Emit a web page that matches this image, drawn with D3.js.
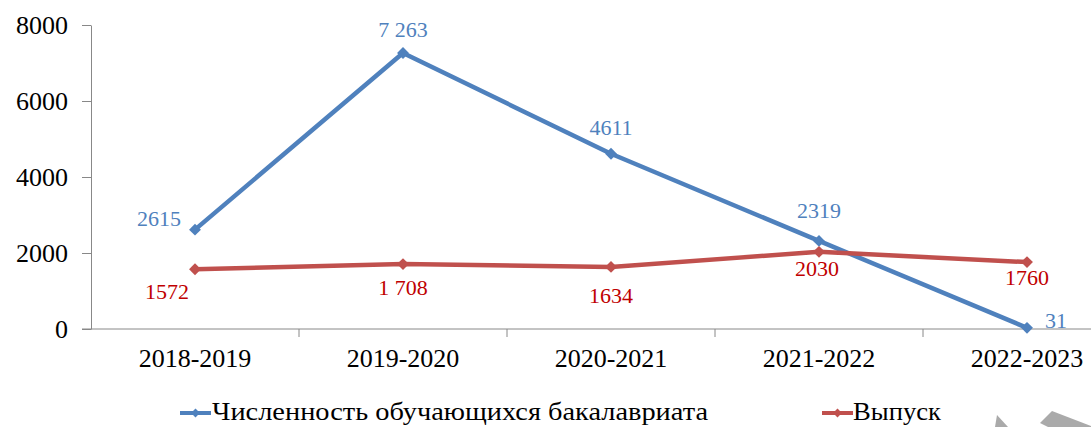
<!DOCTYPE html>
<html>
<head>
<meta charset="utf-8">
<script src="https://cdn.jsdelivr.net/npm/d3@7"></script>
<style>
  body { margin: 0; background: #fff; }
  svg text { font-family: "Liberation Serif", "DejaVu Serif", "Times New Roman", serif; }
</style>
</head>
<body>
<svg id="chart"></svg>
<script>
// data
var years = ["2018-2019", "2019-2020", "2020-2021", "2021-2022", "2022-2023"];
var students = [2615, 7263, 4611, 2319, 31];
var studentLabels = ["2615", "7 263", "4611", "2319", "31"];
var graduates = [1572, 1708, 1634, 2030, 1760];
var graduateLabels = ["1572", "1 708", "1634", "2030", "1760"];
var yTicks = [0, 2000, 4000, 6000, 8000];
var seriesNames = ["Численность обучающихся бакалавриата", "Выпуск"];

var W = 1091, H = 427;
var serif = "'Liberation Serif', 'DejaVu Serif', serif";
var svg = d3.select("#chart").attr("width", W).attr("height", H);

var x = d3.scaleBand().domain(years).range([91, 91 + 5 * 208]);
var y = d3.scaleLinear().domain([0, 8000]).range([329, 25]);

// y axis
var yAxis = svg.append("g")
    .attr("transform", "translate(91,0)")
    .call(d3.axisLeft(y).tickValues(yTicks).tickSize(9).tickSizeOuter(0).tickFormat(d3.format("d")));
yAxis.attr("font-family", serif).attr("font-size", 26);
yAxis.select(".domain").attr("stroke", "#888");
yAxis.selectAll(".tick line").attr("stroke", "#888");
yAxis.selectAll(".tick text")
    .attr("x", -23)
    .attr("dy", "0.34em")
    .style("font-family", serif)
    .style("font-size", "26px")
    .attr("fill", "#000");

// x axis
var xAxis = svg.append("g")
    .attr("transform", "translate(0,329)");
xAxis.append("line")
    .attr("x1", 82).attr("x2", W)
    .attr("y1", 0).attr("y2", 0)
    .attr("stroke", "#888");
xAxis.selectAll("line.sep")
    .data(years)
    .enter().append("line")
    .attr("class", "sep")
    .attr("x1", d => x(d) + x.bandwidth())
    .attr("x2", d => x(d) + x.bandwidth())
    .attr("y1", 0).attr("y2", 8)
    .attr("stroke", "#888");
xAxis.selectAll("text")
    .data(years)
    .enter().append("text")
    .attr("x", d => x(d) + x.bandwidth() / 2)
    .attr("y", 38)
    .attr("text-anchor", "middle")
    .style("font-family", serif)
    .style("font-size", "26px")
    .attr("fill", "#000")
    .text(d => d);

var cx = d => x(d) + x.bandwidth() / 2;
var line = d3.line().x(d => cx(d.year)).y(d => y(d.v));

function drawSeries(vals, color) {
  var pts = years.map((yr, i) => ({year: yr, v: vals[i]}));
  svg.append("path")
      .datum(pts)
      .attr("d", line)
      .attr("fill", "none")
      .attr("stroke", color)
      .attr("stroke-width", 4.5)
      .attr("stroke-linejoin", "round");
  svg.append("g").selectAll("path")
      .data(pts)
      .enter().append("path")
      .attr("d", d3.symbol().type(d3.symbolDiamond2).size(90))
      .attr("transform", d => "translate(" + cx(d.year) + "," + y(d.v) + ")")
      .attr("fill", color);
  return pts;
}

var blue = "#4f81bd", red = "#c0504d";
var bluePts = drawSeries(students, blue);
var redPts = drawSeries(graduates, red);

// data labels
var blueOffsets = [[-36, -11], [0, -24], [0, -26], [0, -31], [29, -8]];
svg.append("g").selectAll("text")
    .data(bluePts)
    .enter().append("text")
    .attr("x", (d, i) => cx(d.year) + blueOffsets[i][0])
    .attr("y", (d, i) => y(d.v) + blueOffsets[i][1])
    .attr("text-anchor", "middle")
    .attr("dy", "0.35em")
    .style("font-family", serif)
    .style("font-size", "22px")
    .attr("fill", blue)
    .text((d, i) => studentLabels[i]);

var redOffsets = [[-28, 22], [0, 23], [0, 28], [-2, 16], [0, 15]];
svg.append("g").selectAll("text")
    .data(redPts)
    .enter().append("text")
    .attr("x", (d, i) => cx(d.year) + redOffsets[i][0])
    .attr("y", (d, i) => y(d.v) + redOffsets[i][1])
    .attr("text-anchor", "middle")
    .attr("dy", "0.35em")
    .style("font-family", serif)
    .style("font-size", "22px")
    .attr("fill", "#c00000")
    .text((d, i) => graduateLabels[i]);

// legend
var legend = svg.append("g").attr("transform", "translate(0,413)");
var legendItems = [
  {name: seriesNames[0], color: blue, x0: 180, tx: 212, len: 496},
  {name: seriesNames[1], color: red, x0: 822, tx: 853, len: 88}
];
legendItems.forEach(function(it) {
  legend.append("line")
      .attr("x1", it.x0).attr("x2", it.x0 + 31)
      .attr("y1", 0).attr("y2", 0)
      .attr("stroke", it.color).attr("stroke-width", 4);
  legend.append("path")
      .attr("d", d3.symbol().type(d3.symbolDiamond2).size(50))
      .attr("transform", "translate(" + (it.x0 + 15.5) + ",0)")
      .attr("fill", it.color);
  legend.append("text")
      .attr("x", it.tx)
      .attr("y", 7)
      .attr("textLength", it.len)
      .attr("lengthAdjust", "spacingAndGlyphs")
      .style("font-family", serif)
      .style("font-size", "25px")
      .attr("fill", "#000")
      .text(it.name);
});

// gray corner decoration
svg.append("polygon")
    .attr("points", "997,415 1008,427 995,427")
    .attr("fill", "#aaa");
svg.append("polygon")
    .attr("points", "1040,423 1052,411 1091,426 1091,427 1048,427")
    .attr("fill", "#aaa");
</script>
</body>
</html>
